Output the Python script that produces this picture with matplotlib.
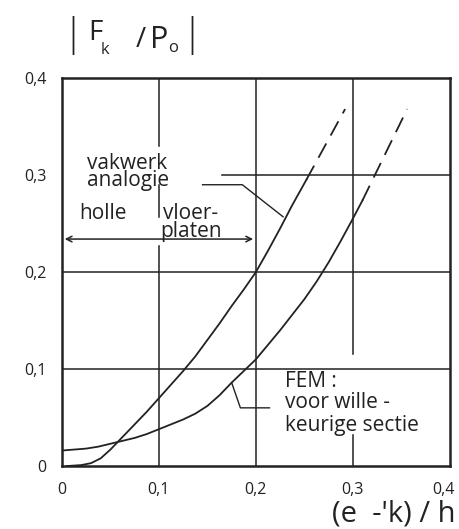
import matplotlib

matplotlib.use("Agg")
import matplotlib.pyplot as plt  # noqa: E402

# left curve: "vakwerk analogie" (solid part, then dashed extrapolation)
vak_x = [0.005, 0.02, 0.03, 0.04, 0.05, 0.0625, 0.075, 0.0875, 0.1, 0.1125, 0.125,
         0.1375, 0.15, 0.1625, 0.175, 0.1875, 0.2, 0.2125, 0.225, 0.2375, 0.252]
vak_y = [0.0, 0.001, 0.003, 0.008, 0.017, 0.03, 0.043, 0.056, 0.07, 0.084, 0.098,
         0.113, 0.13, 0.147, 0.165, 0.182, 0.2, 0.222, 0.245, 0.269, 0.295]
vak_dash_x = [0.252, 0.292]
vak_dash_y = [0.295, 0.368]

# right curve: FEM, arbitrary section
fem_x = [0.0, 0.0125, 0.025, 0.0375, 0.05, 0.0625, 0.075, 0.0875, 0.1, 0.1125, 0.125,
         0.1375, 0.15, 0.1625, 0.175, 0.1875, 0.2, 0.2125, 0.225, 0.2375, 0.25,
         0.2625, 0.275, 0.2875, 0.3, 0.31]
fem_y = [0.016, 0.017, 0.018, 0.02, 0.023, 0.026, 0.029, 0.033, 0.038, 0.043, 0.048,
         0.054, 0.062, 0.073, 0.086, 0.098, 0.11, 0.125, 0.14, 0.156, 0.172,
         0.19, 0.21, 0.232, 0.255, 0.274]
fem_dash_x = [0.31, 0.356]
fem_dash_y = [0.274, 0.368]

ticks = [0.0, 0.1, 0.2, 0.3, 0.4]
tick_labels = ["0", "0,1", "0,2", "0,3", "0,4"]

INK = "#222222"
plt.rcParams["font.family"] = ["Open Sans", "DejaVu Sans"]

fig = plt.figure(figsize=(4.59, 5.29), dpi=100)
ax = fig.add_axes([0.135, 0.119, 0.845, 0.7335])
ax.set_xlim(0, 0.4)
ax.set_ylim(0, 0.4)
for s in ax.spines.values():
    s.set_linewidth(1.8)
    s.set_color(INK)

ax.set_xticks(ticks)
ax.set_xticklabels([])
ax.set_yticks(ticks)
ax.set_yticklabels(tick_labels, fontsize=11.5, color=INK)
ax.tick_params(length=0, pad=11)
# x tick labels drawn by hand so the last one stays inside the figure
xt = ax.get_xaxis_transform()
for t, lab in zip(ticks, tick_labels):
    last = t == ticks[-1]
    ax.text(t + (0.005 if last else 0), -0.062, lab, transform=xt, fontsize=11.5,
            color=INK, ha="right" if last else "center", va="center")

# grid, broken where the hand lettering sits
gkw = dict(color=INK, lw=1.1, zorder=1)
ax.plot([0, 0.4], [0.1, 0.1], **gkw)
ax.plot([0, 0.4], [0.2, 0.2], **gkw)
ax.plot([0.165, 0.4], [0.3, 0.3], **gkw)
ax.plot([0.2, 0.2], [0, 0.4], **gkw)
ax.plot([0.1, 0.1], [0, 0.227], **gkw)
ax.plot([0.1, 0.1], [0.257, 0.29], **gkw)
ax.plot([0.1, 0.1], [0.33, 0.4], **gkw)
ax.plot([0.3, 0.3], [0, 0.032], **gkw)
ax.plot([0.3, 0.3], [0.116, 0.4], **gkw)

ckw = dict(color=INK, lw=1.3, zorder=3)
ax.plot(vak_x, vak_y, **ckw)
ax.plot(vak_dash_x, vak_dash_y, dashes=(9, 5), **ckw)
ax.plot(fem_x, fem_y, **ckw)
ax.plot(fem_dash_x, fem_dash_y, dashes=(9, 5), **ckw)

tkw = dict(color=INK, fontsize=15, zorder=4)
ax.text(0.026, 0.303, "vakwerk\nanalogie", va="center", linespacing=0.78, **tkw)
ax.text(0.018, 0.255, "holle", va="baseline", **tkw)
ax.text(0.133, 0.251, "vloer-\nplaten", va="center", ha="center",
        multialignment="center", linespacing=0.78, **tkw)
ax.plot([0.145, 0.186, 0.228], [0.29, 0.29, 0.257], color=INK, lw=1.0, zorder=2)
ax.annotate("", xy=(0.0, 0.234), xytext=(0.2, 0.234),
            arrowprops=dict(arrowstyle="<->", color=INK, lw=1.1))

ax.text(0.230, 0.081, "FEM :", va="baseline", **tkw)
ax.text(0.230, 0.0595, "voor wille -", va="baseline", **tkw)
ax.text(0.230, 0.036, "keurige sectie", va="baseline", **tkw)
ax.plot([0.175, 0.184, 0.214], [0.086, 0.060, 0.060], color=INK, lw=1.0, zorder=2)

# axis titles, lettered by hand in the original
fig.text(0.159, 0.932, "|", fontsize=28, color=INK, ha="center", va="center",
         fontweight="light")
fig.text(0.209, 0.938, "F", fontsize=20, color=INK, ha="center", va="center")
fig.text(0.229, 0.906, "k", fontsize=12, color=INK, ha="center", va="center")
fig.text(0.307, 0.924, "/", fontsize=20, color=INK, ha="center", va="center")
fig.text(0.347, 0.924, "P", fontsize=22, color=INK, ha="center", va="center")
fig.text(0.376, 0.909, "o", fontsize=12, color=INK, ha="center", va="center")
fig.text(0.419, 0.932, "|", fontsize=28, color=INK, ha="center", va="center",
         fontweight="light")
fig.text(0.992, 0.028, "(e  -'k) / h", fontsize=21, color=INK, ha="right", va="center")

fig.savefig("out.png", dpi=100)
